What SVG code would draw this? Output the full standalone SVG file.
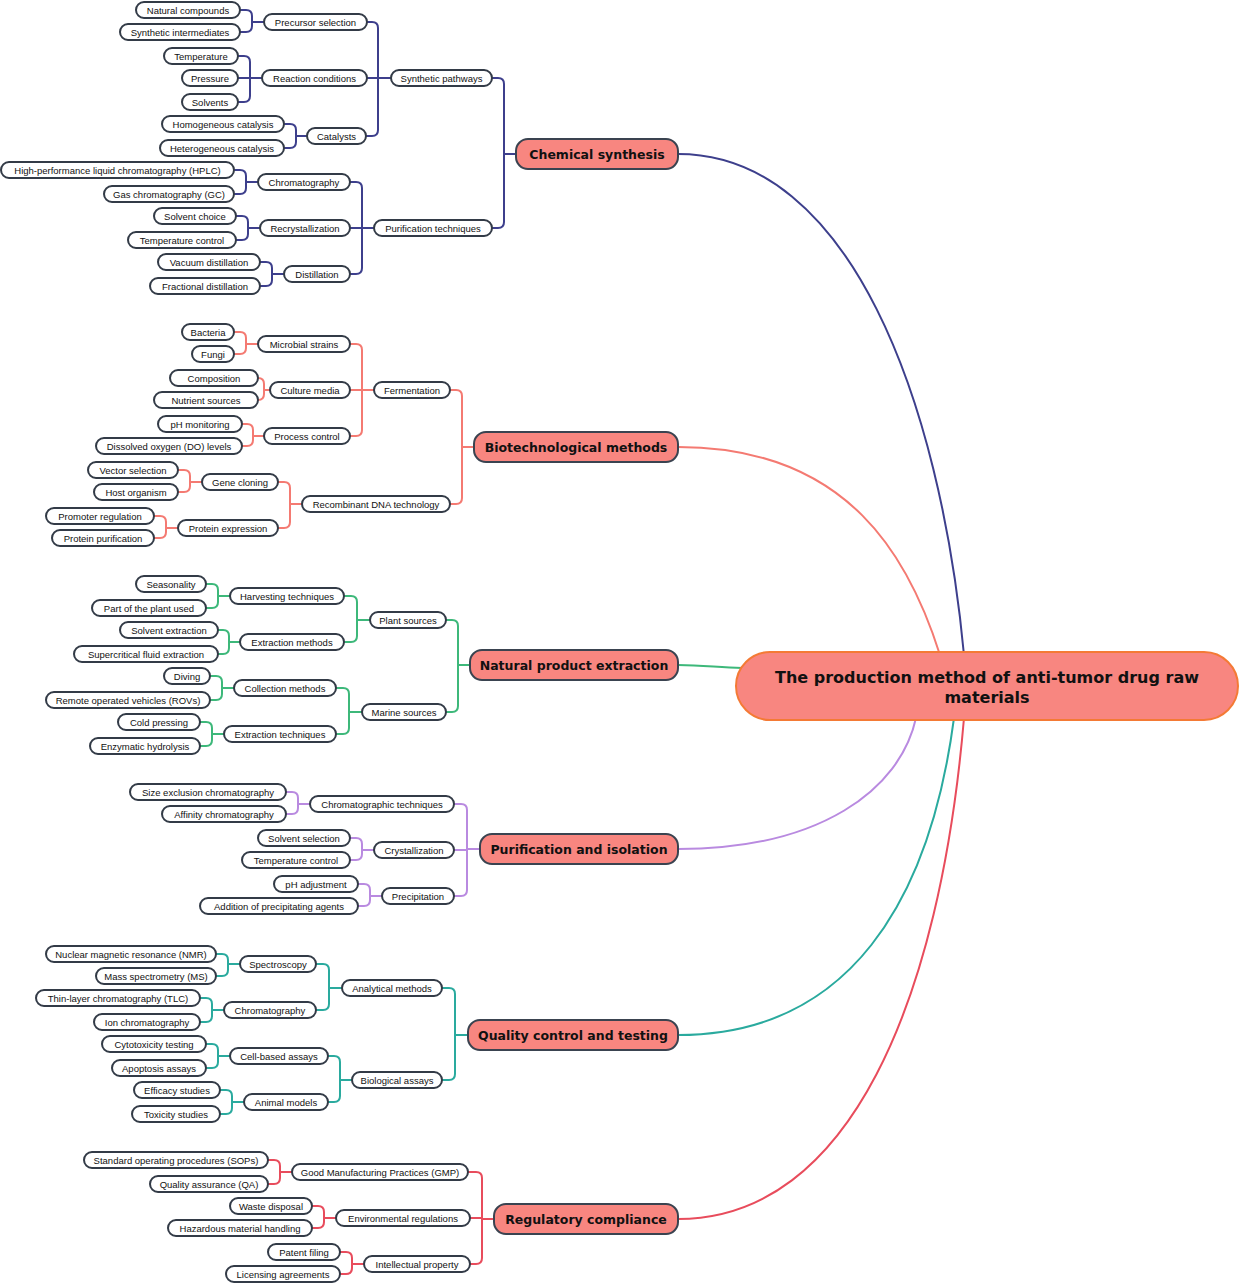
<svg xmlns="http://www.w3.org/2000/svg" width="1240" height="1284" viewBox="0 0 1240 1284">
<style>
.c path{fill:none;stroke-width:2}
.k1{stroke:#3d3f8c}.k2{stroke:#f47a72}.k3{stroke:#3db87a}.k4{stroke:#b98ae0}.k5{stroke:#2aaa9e}.k6{stroke:#e84c5c}
.n rect{fill:#fff;stroke:#333b47;stroke-width:2}
.n text{font-family:"Liberation Sans",Arial,sans-serif;font-size:9.5px;fill:#111;text-anchor:middle}
.m rect{fill:#f88680;stroke:#3a4350;stroke-width:2}
.m text{font-family:"DejaVu Sans","Liberation Sans",sans-serif;font-size:12.5px;font-weight:bold;fill:#111;text-anchor:middle}
</style>
<g class="c" id="connectors">
<path class="k1" d="M678,154 C850,154 940,400 964,655"/>
<path class="k2" d="M678,447 C850,447 910,560 940,655"/>
<path class="k3" d="M678,665 C705,665 720,668 742,668"/>
<path class="k4" d="M678,849 C820,849 900,790 916,718"/>
<path class="k5" d="M678,1035 C850,1035 930,900 954,718"/>
<path class="k6" d="M678,1219 C850,1219 940,1000 964,718"/>
<g class="k1">
<path d="M492,78 H498 Q504,78 504,84 V222 Q504,228 498,228 H492 M504,154 H516"/>
<path d="M367,22 H372 Q378,22 378,28 V130 Q378,136 372,136 H366 M367,78 H391"/>
<path d="M240,10 H246 Q252,10 252,16 V26 Q252,32 246,32 H240 M252,22 H264"/>
<path d="M238,56 H244 Q250,56 250,62 V96 Q250,102 244,102 H238 M238,78 H262"/>
<path d="M284,124 H290 Q296,124 296,130 V142 Q296,148 290,148 H284 M296,136 H307"/>
<path d="M350,182 H356 Q362,182 362,188 V268 Q362,274 356,274 H350 M350,228 H374"/>
<path d="M234,170 H240 Q246,170 246,176 V188 Q246,194 240,194 H234 M246,182 H258"/>
<path d="M236,216 H242 Q248,216 248,222 V234 Q248,240 242,240 H236 M248,228 H260"/>
<path d="M260,262 H266 Q272,262 272,268 V280 Q272,286 266,286 H260 M272,274 H284"/>
</g>
<g class="k2">
<path d="M450,390 H456 Q462,390 462,396 V498 Q462,504 456,504 H450 M462,447 H474"/>
<path d="M350,344 H356 Q362,344 362,350 V430 Q362,436 356,436 H350 M350,390 H374"/>
<path d="M234,332 H240 Q246,332 246,338 V348 Q246,354 240,354 H234 M246,344 H258"/>
<path d="M258,378 H258 Q264,378 264,384 V394 Q264,400 258,400 H258 M264,390 H270"/>
<path d="M242,424 H247 Q253,424 253,430 V440 Q253,446 247,446 H242 M253,436 H264"/>
<path d="M278,482 H284 Q290,482 290,488 V522 Q290,528 284,528 H278 M290,504 H302"/>
<path d="M178,470 H184 Q190,470 190,476 V486 Q190,492 184,492 H178 M190,482 H202"/>
<path d="M154,516 H160 Q166,516 166,522 V532 Q166,538 160,538 H154 M166,528 H178"/>
</g>
<g class="k3">
<path d="M446,620 H452 Q458,620 458,626 V706 Q458,712 452,712 H446 M458,665 H470"/>
<path d="M344,596 H351 Q357,596 357,602 V636 Q357,642 351,642 H344 M357,620 H370"/>
<path d="M206,584 H212 Q218,584 218,590 V602 Q218,608 212,608 H206 M218,596 H230"/>
<path d="M218,630 H223 Q229,630 229,636 V648 Q229,654 223,654 H218 M229,642 H240"/>
<path d="M336,688 H343 Q349,688 349,694 V728 Q349,734 343,734 H336 M349,712 H362"/>
<path d="M210,676 H216 Q222,676 222,682 V694 Q222,700 216,700 H210 M222,688 H234"/>
<path d="M200,722 H206 Q212,722 212,728 V740 Q212,746 206,746 H200 M212,734 H224"/>
</g>
<g class="k4">
<path d="M454,804 H461 Q467,804 467,810 V890 Q467,896 461,896 H454 M454,850 H467 M467,849 H480"/>
<path d="M286,792 H292 Q298,792 298,798 V808 Q298,814 292,814 H286 M298,804 H310"/>
<path d="M350,838 H356 Q362,838 362,844 V854 Q362,860 356,860 H350 M362,850 H374"/>
<path d="M358,884 H364 Q370,884 370,890 V900 Q370,906 364,906 H358 M370,896 H382"/>
</g>
<g class="k5">
<path d="M442,988 H449 Q455,988 455,994 V1074 Q455,1080 449,1080 H442 M455,1035 H468"/>
<path d="M316,964 H323 Q329,964 329,970 V1004 Q329,1010 323,1010 H316 M329,988 H342"/>
<path d="M216,954 H222 Q228,954 228,960 V970 Q228,976 222,976 H216 M228,964 H240"/>
<path d="M200,998 H206 Q212,998 212,1004 V1016 Q212,1022 206,1022 H200 M212,1010 H224"/>
<path d="M328,1056 H334 Q340,1056 340,1062 V1096 Q340,1102 334,1102 H328 M340,1080 H352"/>
<path d="M206,1044 H212 Q218,1044 218,1050 V1062 Q218,1068 212,1068 H206 M218,1056 H230"/>
<path d="M220,1090 H226 Q232,1090 232,1096 V1108 Q232,1114 226,1114 H220 M232,1102 H244"/>
</g>
<g class="k6">
<path d="M468,1172 H476 Q482,1172 482,1178 V1258 Q482,1264 476,1264 H470 M470,1218 H482 M482,1219 H494"/>
<path d="M268,1160 H274 Q280,1160 280,1166 V1178 Q280,1184 274,1184 H268 M280,1172 H292"/>
<path d="M312,1206 H318 Q324,1206 324,1212 V1222 Q324,1228 318,1228 H312 M324,1218 H336"/>
<path d="M340,1252 H346 Q352,1252 352,1258 V1268 Q352,1274 346,1274 H340 M352,1264 H364"/>
</g>
</g>
<g id="root"><rect x="736" y="652" width="502" height="68" rx="34" fill="#f88680" stroke="#f47a35" stroke-width="2"/>
<text x="987" y="683" font-family="DejaVu Sans,Liberation Sans,sans-serif" font-size="16" font-weight="bold" text-anchor="middle" fill="#111">The production method of anti-tumor drug raw</text>
<text x="987" y="703" font-family="DejaVu Sans,Liberation Sans,sans-serif" font-size="16" font-weight="bold" text-anchor="middle" fill="#111">materials</text></g>
<g class="m">
<g id="m1"><rect x="516" y="139" width="162" height="30" rx="12"/><text x="597" y="159">Chemical synthesis</text></g>
<g id="m2"><rect x="474" y="432" width="204" height="30" rx="12"/><text x="576" y="452">Biotechnological methods</text></g>
<g id="m3"><rect x="470" y="650" width="208" height="30" rx="12"/><text x="574" y="670">Natural product extraction</text></g>
<g id="m4"><rect x="480" y="834" width="198" height="30" rx="12"/><text x="579" y="854">Purification and isolation</text></g>
<g id="m5"><rect x="468" y="1020" width="210" height="30" rx="12"/><text x="573" y="1040">Quality control and testing</text></g>
<g id="m6"><rect x="494" y="1204" width="184" height="30" rx="12"/><text x="586" y="1224">Regulatory compliance</text></g>
</g>
<g class="n">
<g id="a1"><rect x="391" y="70" width="101" height="16" rx="8"/><text x="441.5" y="81.5">Synthetic pathways</text></g>
<g id="a2"><rect x="264" y="14" width="103" height="16" rx="8"/><text x="315.5" y="25.5">Precursor selection</text></g>
<g id="a3"><rect x="136" y="2" width="104" height="16" rx="8"/><text x="188" y="13.5">Natural compounds</text></g>
<g id="a4"><rect x="120" y="24" width="120" height="16" rx="8"/><text x="180" y="35.5">Synthetic intermediates</text></g>
<g id="a5"><rect x="262" y="70" width="105" height="16" rx="8"/><text x="314.5" y="81.5">Reaction conditions</text></g>
<g id="a6"><rect x="164" y="48" width="74" height="16" rx="8"/><text x="201" y="59.5">Temperature</text></g>
<g id="a7"><rect x="182" y="70" width="56" height="16" rx="8"/><text x="210" y="81.5">Pressure</text></g>
<g id="a8"><rect x="182" y="94" width="56" height="16" rx="8"/><text x="210" y="105.5">Solvents</text></g>
<g id="a9"><rect x="307" y="128" width="59" height="16" rx="8"/><text x="336.5" y="139.5">Catalysts</text></g>
<g id="a10"><rect x="162" y="116" width="122" height="16" rx="8"/><text x="223" y="127.5">Homogeneous catalysis</text></g>
<g id="a11"><rect x="160" y="140" width="124" height="16" rx="8"/><text x="222" y="151.5">Heterogeneous catalysis</text></g>
<g id="a12"><rect x="374" y="220" width="118" height="16" rx="8"/><text x="433" y="231.5">Purification techniques</text></g>
<g id="a13"><rect x="258" y="174" width="92" height="16" rx="8"/><text x="304" y="185.5">Chromatography</text></g>
<g id="a14"><rect x="1" y="162" width="233" height="16" rx="8"/><text x="117.5" y="173.5">High-performance liquid chromatography (HPLC)</text></g>
<g id="a15"><rect x="104" y="186" width="130" height="16" rx="8"/><text x="169" y="197.5">Gas chromatography (GC)</text></g>
<g id="a16"><rect x="260" y="220" width="90" height="16" rx="8"/><text x="305" y="231.5">Recrystallization</text></g>
<g id="a17"><rect x="154" y="208" width="82" height="16" rx="8"/><text x="195" y="219.5">Solvent choice</text></g>
<g id="a18"><rect x="128" y="232" width="108" height="16" rx="8"/><text x="182" y="243.5">Temperature control</text></g>
<g id="a19"><rect x="284" y="266" width="66" height="16" rx="8"/><text x="317" y="277.5">Distillation</text></g>
<g id="a20"><rect x="158" y="254" width="102" height="16" rx="8"/><text x="209" y="265.5">Vacuum distillation</text></g>
<g id="a21"><rect x="150" y="278" width="110" height="16" rx="8"/><text x="205" y="289.5">Fractional distillation</text></g>

<g id="b1"><rect x="374" y="382" width="76" height="16" rx="8"/><text x="412" y="393.5">Fermentation</text></g>
<g id="b2"><rect x="258" y="336" width="92" height="16" rx="8"/><text x="304" y="347.5">Microbial strains</text></g>
<g id="b3"><rect x="182" y="324" width="52" height="16" rx="8"/><text x="208" y="335.5">Bacteria</text></g>
<g id="b4"><rect x="192" y="346" width="42" height="16" rx="8"/><text x="213" y="357.5">Fungi</text></g>
<g id="b5"><rect x="270" y="382" width="80" height="16" rx="8"/><text x="310" y="393.5">Culture media</text></g>
<g id="b6"><rect x="170" y="370" width="88" height="16" rx="8"/><text x="214" y="381.5">Composition</text></g>
<g id="b7"><rect x="154" y="392" width="104" height="16" rx="8"/><text x="206" y="403.5">Nutrient sources</text></g>
<g id="b8"><rect x="264" y="428" width="86" height="16" rx="8"/><text x="307" y="439.5">Process control</text></g>
<g id="b9"><rect x="158" y="416" width="84" height="16" rx="8"/><text x="200" y="427.5">pH monitoring</text></g>
<g id="b10"><rect x="96" y="438" width="146" height="16" rx="8"/><text x="169" y="449.5">Dissolved oxygen (DO) levels</text></g>
<g id="b11"><rect x="302" y="496" width="148" height="16" rx="8"/><text x="376" y="507.5">Recombinant DNA technology</text></g>
<g id="b12"><rect x="202" y="474" width="76" height="16" rx="8"/><text x="240" y="485.5">Gene cloning</text></g>
<g id="b13"><rect x="88" y="462" width="90" height="16" rx="8"/><text x="133" y="473.5">Vector selection</text></g>
<g id="b14"><rect x="94" y="484" width="84" height="16" rx="8"/><text x="136" y="495.5">Host organism</text></g>
<g id="b15"><rect x="178" y="520" width="100" height="16" rx="8"/><text x="228" y="531.5">Protein expression</text></g>
<g id="b16"><rect x="46" y="508" width="108" height="16" rx="8"/><text x="100" y="519.5">Promoter regulation</text></g>
<g id="b17"><rect x="52" y="530" width="102" height="16" rx="8"/><text x="103" y="541.5">Protein purification</text></g>

<g id="c1"><rect x="370" y="612" width="76" height="16" rx="8"/><text x="408" y="623.5">Plant sources</text></g>
<g id="c2"><rect x="230" y="588" width="114" height="16" rx="8"/><text x="287" y="599.5">Harvesting techniques</text></g>
<g id="c3"><rect x="136" y="576" width="70" height="16" rx="8"/><text x="171" y="587.5">Seasonality</text></g>
<g id="c4"><rect x="92" y="600" width="114" height="16" rx="8"/><text x="149" y="611.5">Part of the plant used</text></g>
<g id="c5"><rect x="240" y="634" width="104" height="16" rx="8"/><text x="292" y="645.5">Extraction methods</text></g>
<g id="c6"><rect x="120" y="622" width="98" height="16" rx="8"/><text x="169" y="633.5">Solvent extraction</text></g>
<g id="c7"><rect x="74" y="646" width="144" height="16" rx="8"/><text x="146" y="657.5">Supercritical fluid extraction</text></g>
<g id="c8"><rect x="362" y="704" width="84" height="16" rx="8"/><text x="404" y="715.5">Marine sources</text></g>
<g id="c9"><rect x="234" y="680" width="102" height="16" rx="8"/><text x="285" y="691.5">Collection methods</text></g>
<g id="c10"><rect x="164" y="668" width="46" height="16" rx="8"/><text x="187" y="679.5">Diving</text></g>
<g id="c11"><rect x="46" y="692" width="164" height="16" rx="8"/><text x="128" y="703.5">Remote operated vehicles (ROVs)</text></g>
<g id="c12"><rect x="224" y="726" width="112" height="16" rx="8"/><text x="280" y="737.5">Extraction techniques</text></g>
<g id="c13"><rect x="118" y="714" width="82" height="16" rx="8"/><text x="159" y="725.5">Cold pressing</text></g>
<g id="c14"><rect x="90" y="738" width="110" height="16" rx="8"/><text x="145" y="749.5">Enzymatic hydrolysis</text></g>

<g id="d1"><rect x="310" y="796" width="144" height="16" rx="8"/><text x="382" y="807.5">Chromatographic techniques</text></g>
<g id="d2"><rect x="130" y="784" width="156" height="16" rx="8"/><text x="208" y="795.5">Size exclusion chromatography</text></g>
<g id="d3"><rect x="162" y="806" width="124" height="16" rx="8"/><text x="224" y="817.5">Affinity chromatography</text></g>
<g id="d4"><rect x="374" y="842" width="80" height="16" rx="8"/><text x="414" y="853.5">Crystallization</text></g>
<g id="d5"><rect x="258" y="830" width="92" height="16" rx="8"/><text x="304" y="841.5">Solvent selection</text></g>
<g id="d6"><rect x="242" y="852" width="108" height="16" rx="8"/><text x="296" y="863.5">Temperature control</text></g>
<g id="d7"><rect x="382" y="888" width="72" height="16" rx="8"/><text x="418" y="899.5">Precipitation</text></g>
<g id="d8"><rect x="274" y="876" width="84" height="16" rx="8"/><text x="316" y="887.5">pH adjustment</text></g>
<g id="d9"><rect x="200" y="898" width="158" height="16" rx="8"/><text x="279" y="909.5">Addition of precipitating agents</text></g>

<g id="e1"><rect x="342" y="980" width="100" height="16" rx="8"/><text x="392" y="991.5">Analytical methods</text></g>
<g id="e2"><rect x="240" y="956" width="76" height="16" rx="8"/><text x="278" y="967.5">Spectroscopy</text></g>
<g id="e3"><rect x="46" y="946" width="170" height="16" rx="8"/><text x="131" y="957.5">Nuclear magnetic resonance (NMR)</text></g>
<g id="e4"><rect x="96" y="968" width="120" height="16" rx="8"/><text x="156" y="979.5">Mass spectrometry (MS)</text></g>
<g id="e5"><rect x="224" y="1002" width="92" height="16" rx="8"/><text x="270" y="1013.5">Chromatography</text></g>
<g id="e6"><rect x="36" y="990" width="164" height="16" rx="8"/><text x="118" y="1001.5">Thin-layer chromatography (TLC)</text></g>
<g id="e7"><rect x="94" y="1014" width="106" height="16" rx="8"/><text x="147" y="1025.5">Ion chromatography</text></g>
<g id="e8"><rect x="352" y="1072" width="90" height="16" rx="8"/><text x="397" y="1083.5">Biological assays</text></g>
<g id="e9"><rect x="230" y="1048" width="98" height="16" rx="8"/><text x="279" y="1059.5">Cell-based assays</text></g>
<g id="e10"><rect x="102" y="1036" width="104" height="16" rx="8"/><text x="154" y="1047.5">Cytotoxicity testing</text></g>
<g id="e11"><rect x="112" y="1060" width="94" height="16" rx="8"/><text x="159" y="1071.5">Apoptosis assays</text></g>
<g id="e12"><rect x="244" y="1094" width="84" height="16" rx="8"/><text x="286" y="1105.5">Animal models</text></g>
<g id="e13"><rect x="134" y="1082" width="86" height="16" rx="8"/><text x="177" y="1093.5">Efficacy studies</text></g>
<g id="e14"><rect x="132" y="1106" width="88" height="16" rx="8"/><text x="176" y="1117.5">Toxicity studies</text></g>

<g id="f1"><rect x="292" y="1164" width="176" height="16" rx="8"/><text x="380" y="1175.5">Good Manufacturing Practices (GMP)</text></g>
<g id="f2"><rect x="84" y="1152" width="184" height="16" rx="8"/><text x="176" y="1163.5">Standard operating procedures (SOPs)</text></g>
<g id="f3"><rect x="150" y="1176" width="118" height="16" rx="8"/><text x="209" y="1187.5">Quality assurance (QA)</text></g>
<g id="f4"><rect x="336" y="1210" width="134" height="16" rx="8"/><text x="403" y="1221.5">Environmental regulations</text></g>
<g id="f5"><rect x="230" y="1198" width="82" height="16" rx="8"/><text x="271" y="1209.5">Waste disposal</text></g>
<g id="f6"><rect x="168" y="1220" width="144" height="16" rx="8"/><text x="240" y="1231.5">Hazardous material handling</text></g>
<g id="f7"><rect x="364" y="1256" width="106" height="16" rx="8"/><text x="417" y="1267.5">Intellectual property</text></g>
<g id="f8"><rect x="268" y="1244" width="72" height="16" rx="8"/><text x="304" y="1255.5">Patent filing</text></g>
<g id="f9"><rect x="226" y="1266" width="114" height="16" rx="8"/><text x="283" y="1277.5">Licensing agreements</text></g>
</g>
</svg>
